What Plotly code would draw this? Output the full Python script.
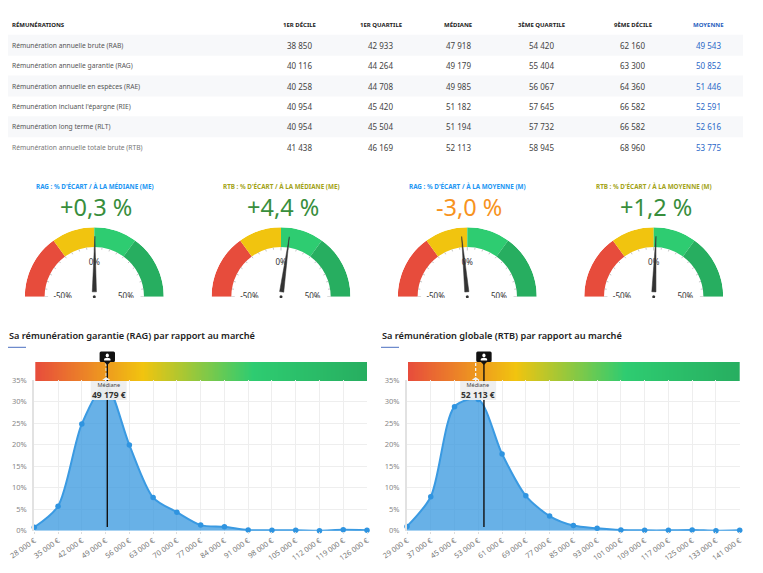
import math
import numpy as np
import plotly.graph_objects as go

W, H = 763, 573
FONT = "Noto Sans"

# Pay table
col_headers = ["RÉMUNÉRATIONS", "1ER DÉCILE", "1ER QUARTILE", "MÉDIANE", "3ÈME QUARTILE", "9ÈME DÉCILE", "MOYENNE"]
row_labels = [
    "Rémunération annuelle brute (RAB)",
    "Rémunération annuelle garantie (RAG)",
    "Rémunération annuelle en espèces (RAE)",
    "Rémunération incluant l'épargne (RIE)",
    "Rémunération long terme (RLT)",
    "Rémunération annuelle totale brute (RTB)",
]
decile_1 = [38850, 40116, 40258, 40954, 40954, 41438]
quartile_1 = [42933, 44264, 44708, 45420, 45504, 46169]
medians = [47918, 49179, 49985, 51182, 51194, 52113]
quartile_3 = [54420, 55404, 56067, 57645, 57732, 58945]
decile_9 = [62160, 63300, 64360, 66582, 66582, 68960]
means = [49543, 50852, 51446, 52591, 52616, 53775]

# Gauges
gauge_titles = [
    "RAG : % D'ÉCART / À LA MÉDIANE (ME)",
    "RTB : % D'ÉCART / À LA MÉDIANE (ME)",
    "RAG : % D'ÉCART / À LA MOYENNE (M)",
    "RTB : % D'ÉCART / À LA MOYENNE (M)",
]
gauge_values = [0.3, 4.4, -3.0, 1.2]
gauge_stops = [-50, -20, 0, 20, 50]
gauge_colors = ["#e74c3c", "#f1c40f", "#2ecc71", "#27ae60"]

# Market distributions
rag_salaries = [28000, 35000, 42000, 49000, 56000, 63000, 70000, 77000, 84000, 91000, 98000, 105000, 112000, 119000, 126000]
rag_shares = [0.8, 5.7, 24.8, 34.0, 19.9, 7.7, 4.3, 1.3, 0.9, 0.15, 0.1, 0.1, 0.0, 0.2, 0.1]
rtb_salaries = [29000, 37000, 45000, 53000, 61000, 69000, 77000, 85000, 93000, 101000, 109000, 117000, 125000, 133000, 141000]
rtb_shares = [1.0, 7.9, 28.8, 30.5, 17.8, 8.1, 3.4, 1.2, 0.55, 0.15, 0.08, 0.08, 0.15, 0.0, 0.1]
rag_position = 49500
rtb_position = 54900
share_ticks = [0, 5, 10, 15, 20, 25, 30, 35]


def xp(x):
    return x / W


def yp(y):
    return 1 - y / H


def money(v):
    return f"{v:,}".replace(",", " ")


fig = go.Figure()
annotations = []
shapes = []


def text(x, y, s, size, color, anchor="center", weight=None, name=FONT):
    font = dict(family=name, size=size, color=color)
    if weight:
        font["weight"] = weight
    annotations.append(dict(xref="paper", yref="paper", x=xp(x), y=yp(y), text=s, showarrow=False,
                            xanchor=anchor, yanchor="middle", font=font, borderpad=0))


# Table
col_x = [11, 299, 380.7, 458, 541, 632.7, 708]
row_y = [45.3 + 20.4 * i for i in range(6)]
for i in (0, 2, 4):
    shapes.append(dict(type="rect", xref="paper", yref="paper", layer="below", x0=xp(8), x1=xp(743),
                       y0=yp(row_y[i] - 10.6), y1=yp(row_y[i] + 10.4), fillcolor="#f7f8fa", line_width=0))
for j, h in enumerate(col_headers):
    text(col_x[j], 25, h, 6, "#2a5fc0" if j == 6 else "#222222", "left" if j == 0 else "center", 700)
for i, label in enumerate(row_labels):
    text(col_x[0], row_y[i], label, 6.7, "#777777" if i == 5 else "#555555", "left")
columns = [decile_1, quartile_1, medians, quartile_3, decile_9, means]
for j, col in enumerate(columns):
    for i, v in enumerate(col):
        text(col_x[j + 1], row_y[i], money(v), 8, "#2a68c8" if j == 5 else "#444444")


# Gauges drawn on half-circle polar subplots
def angle(v):
    return (v + 50) * 1.8


gauge_cx = [94.3, 281, 467.3, 653.7]
gauge_cy = 296.7
R = 69.5
title_colors = ["#2196f3", "#a3a317", "#2196f3", "#a3a317"]
for k, value in enumerate(gauge_values):
    pid = "polar" if k == 0 else f"polar{k + 1}"
    cx = gauge_cx[k]
    fig.update_layout({pid: dict(
        domain=dict(x=[xp(cx - R), xp(cx + R)], y=[yp(gauge_cy), yp(gauge_cy - R)]),
        sector=[0, 180], hole=0, bgcolor="rgba(0,0,0,0)",
        radialaxis=dict(range=[0, 1], visible=False),
        angularaxis=dict(visible=False, rotation=180, direction="clockwise", thetaunit="degrees"),
    )})
    for a, b, c in zip(gauge_stops[:-1], gauge_stops[1:], gauge_colors):
        fig.add_trace(go.Barpolar(subplot=pid, theta=[angle((a + b) / 2)], width=[(b - a) * 1.8],
                                  r=[0.285], base=[0.715], marker=dict(color=c, line_width=0), showlegend=False))
    # tick marks along the inner edge of the arc
    th, rr = [], []
    for t in range(-50, 51, 5):
        inner = 0.665 if t % 50 == 0 else 0.685
        th += [angle(t), angle(t), None]
        rr += [0.715, inner, None]
    fig.add_trace(go.Scatterpolar(subplot=pid, theta=th, r=rr, mode="lines",
                                  line=dict(color="#aaaaaa", width=0.7), showlegend=False))
    # scale labels
    fig.add_trace(go.Scatterpolar(subplot=pid, theta=[angle(-50), angle(0), angle(50)], r=[0.455, 0.49, 0.455],
                                  mode="text", text=["-50%", "0%", "50%"], cliponaxis=False,
                                  textfont=dict(family=FONT, size=8, color="#333333"), showlegend=False))
    # needle polygon, built around the value's direction
    a0 = angle(value)
    pts = [(0.07, -0.03), (0.87, 0.0), (0.07, 0.03), (0.07, -0.03)]
    fig.add_trace(go.Scatterpolar(subplot=pid, theta=[a0 + math.degrees(math.atan2(p, u)) for u, p in pts],
                                  r=[math.hypot(u, p) for u, p in pts], mode="lines", fill="toself",
                                  fillcolor="#333333", line=dict(color="#333333", width=0.5), showlegend=False))
    fig.add_trace(go.Scatterpolar(subplot=pid, theta=[90], r=[0.0], mode="markers", cliponaxis=False,
                                  marker=dict(color="#333333", size=3), showlegend=False))
    text(cx + 0.5, 186, gauge_titles[k], 6.3, title_colors[k], weight=700)
    big = f"{value:+.1f} %".replace(".", ",")
    text(cx + 2, 207, big, 23.5, "#388e3c" if value >= 0 else "#f7931e")
    # the scale labels are cut off at the foot of the gauge
    shapes.append(dict(type="rect", xref="paper", yref="paper", layer="above", x0=xp(cx - R), x1=xp(cx + R),
                       y0=yp(298), y1=yp(304), fillcolor="white", line_width=0))

# Distribution charts
gradient = [[0, "#e74c3c"], [0.325, "#f1c40f"], [0.656, "#2ecc71"], [1, "#27ae60"]]
panels = [
    (1, 34.3, 367.0, rag_salaries, rag_shares, medians[1], rag_position,
     "Sa rémunération garantie (RAG) par rapport au marché", 8),
    (3, 407.0, 739.7, rtb_salaries, rtb_shares, medians[5], rtb_position,
     "Sa rémunération globale (RTB) par rapport au marché", 381),
]
STRIP_TOP = 362
STRIP_BOTTOM = 381
PLOT_TOP = 380
PLOT_BOTTOM = 530.7
for n, left, right, xs, ys, median, pos, title, tx in panels:
    gx, gy = ("x" if n == 1 else f"x{n}"), ("y" if n == 1 else f"y{n}")
    mx, my = f"x{n + 1}", f"y{n + 1}"
    gkey = "xaxis" if n == 1 else f"xaxis{n}"
    gykey = "yaxis" if n == 1 else f"yaxis{n}"
    fig.update_layout({
        gkey: dict(domain=[xp(left + 1), xp(right)], range=[0, 1], visible=False, automargin=False),
        gykey: dict(domain=[yp(STRIP_BOTTOM), yp(STRIP_TOP)], range=[0, 1], visible=False, automargin=False),
        f"xaxis{n + 1}": dict(domain=[xp(left), xp(right)], range=[xs[0], xs[-1]], tickmode="array",
                              tickvals=xs, ticktext=[money(v) + " €" for v in xs], tickangle=-35,
                              tickfont=dict(family=FONT, size=7.4, color="#777777"), gridcolor="#eeeeee",
                              gridwidth=1, zeroline=False, showline=False, ticks="outside", ticklen=2,
                              tickcolor="#dddddd", anchor=my, automargin=False),
        f"yaxis{n + 1}": dict(domain=[yp(PLOT_BOTTOM), yp(PLOT_TOP)], range=[0, 35], tickmode="array",
                              tickvals=share_ticks, ticktext=[f"{v}%" for v in share_ticks],
                              tickfont=dict(family=FONT, size=7.5, color="#888888"), gridcolor="#eeeeee",
                              gridwidth=1, zeroline=False, showline=True, linecolor="#e2e2e2", linewidth=2,
                              ticks="outside", ticklen=4, tickcolor="rgba(0,0,0,0)", anchor=mx, automargin=False),
    })
    # gradient strip above the plot
    strip = np.linspace(0, 1, 256)
    fig.add_trace(go.Heatmap(x=strip, y=[0, 1], z=[strip, strip], xaxis=gx, yaxis=gy, colorscale=gradient,
                             showscale=False, zmin=0, zmax=1, hoverinfo="skip"))
    fig.add_trace(go.Scatter(x=xs, y=ys, xaxis=mx, yaxis=my, mode="lines+markers", fill="tozeroy",
                             fillcolor="rgba(61,155,224,0.78)", cliponaxis=False,
                             line=dict(color="#3a9ae2", width=2, shape="spline", smoothing=0.8),
                             marker=dict(color="#2f94e0", size=5.5), showlegend=False))
    # median tick in the strip and position of the person
    shapes.append(dict(type="line", xref=mx, yref="paper", x0=median, x1=median, y0=yp(STRIP_BOTTOM), y1=yp(STRIP_TOP),
                       layer="above", line=dict(color="#f5f5f5", width=1.3, dash="3px,2px")))
    shapes.append(dict(type="line", xref=mx, yref="paper", x0=pos, x1=pos, y0=yp(527), y1=yp(STRIP_TOP),
                       layer="above", line=dict(color="#111111", width=1.4)))
    anchor_shape = dict(xref=mx, yref="paper", xsizemode="pixel", ysizemode="pixel", layer="above", line_width=0)
    # label box with its pointer
    shapes.append(dict(anchor_shape, type="path", xanchor=median, yanchor=yp(PLOT_TOP),
                       path="M -4 0 L 0 3 L 4 0 Z", fillcolor="#f0f0f0"))
    shapes.append(dict(anchor_shape, type="path", xanchor=median, yanchor=yp(PLOT_TOP),
                       path="M -15.5 -1 L 20.5 -1 L 20.5 -20 L -15.5 -20 Z", fillcolor="rgba(238,238,238,0.95)"))
    # pin with a person glyph
    shapes.append(dict(anchor_shape, type="path", xanchor=pos, yanchor=yp(STRIP_TOP),
                       path="M -7.7 1.5 L -7.7 9 Q -7.7 10.5 -6.2 10.5 L 6.2 10.5 Q 7.7 10.5 7.7 9 L 7.7 1.5 "
                            "Q 7.7 0 6.2 0 L 3 0 L 0 -3 L -3 0 L -6.2 0 Q -7.7 0 -7.7 1.5 Z",
                       fillcolor="#111111"))
    shapes.append(dict(anchor_shape, type="path", xanchor=pos, yanchor=yp(STRIP_TOP),
                       path="M -1.6 6.6 Q -1.6 8.6 0 8.6 Q 1.6 8.6 1.6 6.6 Q 1.6 4.7 0 4.7 Q -1.6 4.7 -1.6 6.6 Z",
                       fillcolor="white"))
    shapes.append(dict(anchor_shape, type="path", xanchor=pos, yanchor=yp(STRIP_TOP),
                       path="M -3.2 1.6 L 3.2 1.6 L 3.2 2.6 Q 3.2 4.2 0 4.2 Q -3.2 4.2 -3.2 2.6 Z",
                       fillcolor="white"))
    sx = left + (median - xs[0]) / (xs[-1] - xs[0]) * (right - left)
    label = f"<span style='font-size:5.5px;color:#444444'>Médiane</span><br><b>{money(median)} €</b>"
    text(sx + 2.5, 390.5, label, 8.5, "#333333")
    text(tx, 335, title, 9.2, "#222222", "left", 600)
    shapes.append(dict(type="line", xref="paper", yref="paper", x0=xp(tx), x1=xp(tx + 18),
                       y0=yp(347.3), y1=yp(347.3), line=dict(color="#4a6fc0", width=1)))

fig.update_layout(width=W, height=H, margin=dict(l=0, r=0, t=0, b=0), paper_bgcolor="white",
                  plot_bgcolor="rgba(0,0,0,0)", showlegend=False, annotations=annotations, shapes=shapes,
                  barmode="overlay")
fig.write_html("out.html")
